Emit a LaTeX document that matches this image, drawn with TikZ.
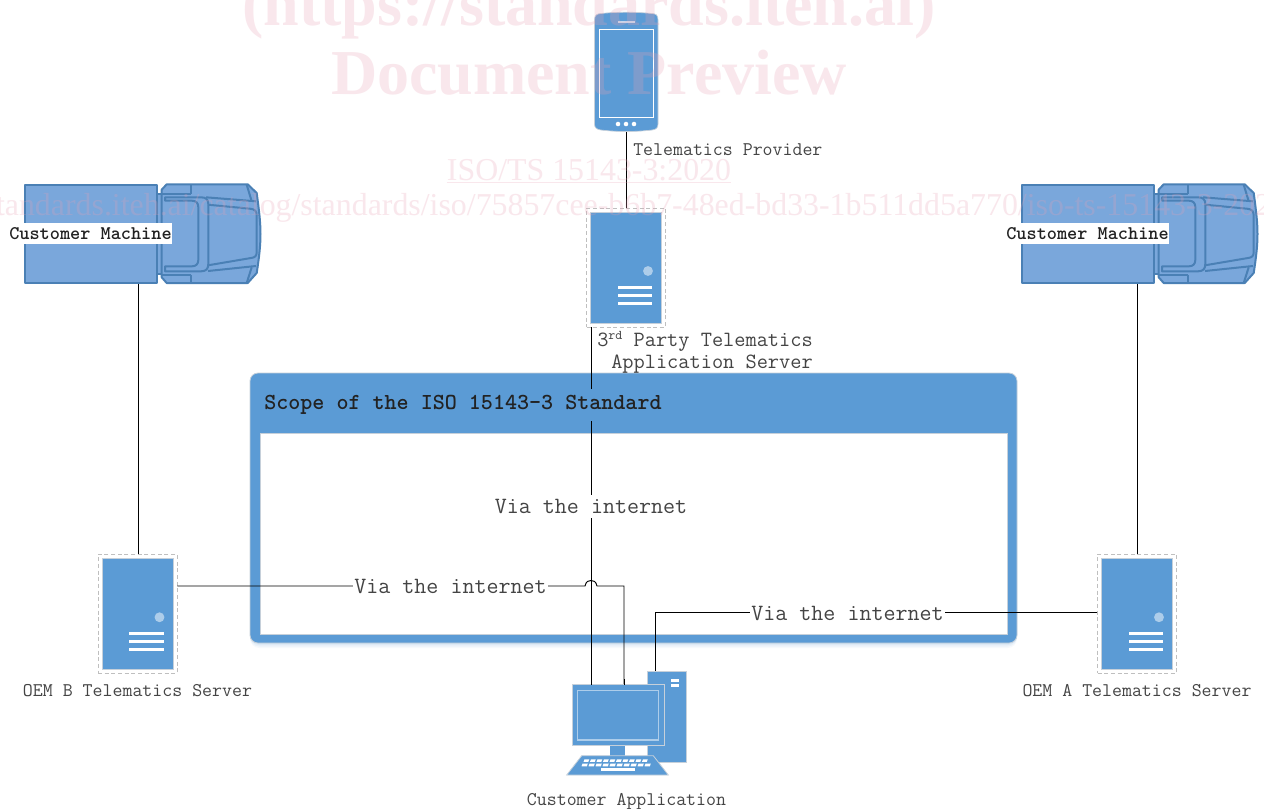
\documentclass[tikz,border=0pt]{standalone}
\usepackage{fontspec}
\setmainfont{Liberation Serif}
\usetikzlibrary{calc}
\definecolor{msblue}{HTML}{5B9BD5}
\definecolor{trkfill}{HTML}{7AA7DB}
\definecolor{trkline}{HTML}{4A80B5}
\definecolor{edgegrey}{HTML}{C6D0DA}
\definecolor{wmark}{HTML}{E8A0B4}
\definecolor{labelgrey}{HTML}{444444}
\definecolor{darktext}{HTML}{222222}
\tikzset{
  lab/.style={font=\ttfamily\fontsize{14.5}{16.5}\selectfont,text=labelgrey,inner sep=0pt},
  lablarge/.style={font=\ttfamily\fontsize{16.3}{16.5}\selectfont,text=labelgrey,inner sep=0pt},
  via/.style={font=\ttfamily\fontsize{17.5}{19}\selectfont,text=labelgrey,fill=white,inner xsep=1pt,inner ysep=3pt},
  cmlabel/.style={font=\ttfamily\bfseries\fontsize{14.5}{16}\selectfont,text=darktext,fill=white,minimum width=120.75pt,minimum height=15.75pt,inner sep=0pt},
  conn/.style={draw=black,line width=0.7pt},
  srvframe/.style={draw=black!25,densely dashed,line width=0.6pt,fill=white,minimum width=59.25pt,minimum height=89.25pt,inner sep=0pt},
  trk/.style={draw=trkline,line width=1.5pt,fill=trkfill,line join=round},
  trkl/.style={draw=trkline,line width=1.5pt,line join=round},
  whitebar/.style={draw=none,fill=white},
  wm/.style={text=wmark,text opacity=0.25,inner sep=0pt},
  truckpic/.pic={
    \path[trk] (24.5,184.5) rectangle (156.5,283);
    \path[trk] (156.5,194) rectangle (162,274);
    \path[trk] (161.7,189.7) -- (166.7,184.3) -- (247.7,184.3) -- (256.7,193) .. controls (259,210) and (260.5,222) .. (260.5,234) .. controls (260.5,246) and (259,258) .. (256.7,273) -- (247.7,283) -- (166.7,283) -- (161.7,277.3) -- cycle;
    \path[trkl] (161.7,194) -- (191,194) (191,184.3) -- (191,194);
    \path[trkl] (161.7,274.7) -- (191,274.7) (191,274.7) -- (191,283);
    \path[trkl] (206,197.3) -- (256,201.3);
    \path[trkl] (208,271) -- (256,266);
    \path[trkl] (208,204.7) -- (250,208.7) .. controls (255,209.2) and (256.7,211) .. (256.7,216) -- (256.7,252) .. controls (256.7,256) and (255,257.5) .. (251,258) -- (208,265.3);
    \path[trkl] (165,197.3) -- (201,197.3) .. controls (206,197.3) and (208.3,199.5) .. (208.3,204) -- (208.3,264) .. controls (208.3,269) and (206,271.3) .. (201,271.3) -- (165,271.3) -- (165,266.3) -- (192,266.3) .. controls (196,266.3) and (198.3,264) .. (198.3,260) -- (198.3,207) .. controls (198.3,203) and (196,200.7) .. (192,200.7) -- (165,200.7) -- cycle;
    \path[trkl] (246.7,184.7) -- (251.7,201.3) (251.7,267.3) -- (246.7,283);
  },
  serverpic/.pic={
    \fill[msblue,draw=edgegrey,line width=0.6pt] (-35.5,-55.5) rectangle (35.5,55.5);
    \fill[fill=msblue!50!white] (22,3.5) circle (3.7pt);
    \foreach \yy in {19.5,27.5,35.5}{\fill[whitebar] (-8.5,\yy-1.5) rectangle (26,\yy+1.5);}
  }
}
\begin{document}
\begin{tikzpicture}[x=0.75pt,y=-0.75pt]
\useasboundingbox (0,0) rectangle (1264,808);
\fill[white] (0,0) rectangle (1264,808);

% scope frame shadow
\foreach \dd/\op in {5/0.05,3.5/0.07,2/0.09}{
  \fill[msblue,opacity=\op,rounded corners=7pt] (250,373+\dd) rectangle (1017,643+\dd);
}
\fill[msblue,draw=edgegrey,line width=0.6pt,rounded corners=6pt] (250,373) rectangle (1017,643);
\fill[white,draw=edgegrey,line width=0.6pt] (260,433) rectangle (1007,634);

% named anchors
\coordinate (truckLc) at (138,283);
\coordinate (truckRc) at (1137,283);
\coordinate (phoneS) at (626,131);
\coordinate (pcA) at (591,685);
\coordinate (pcB) at (624,685);
\coordinate (pcC) at (655,671);

% server frames (empty nodes; icons are drawn on them)
\node[srvframe] (tp) at (626,267.5) {};
\node[srvframe] (oemB) at (137.5,613.75) {};
\node[srvframe] (oemA) at (1137,613.75) {};

% connectors
\draw[conn] (phoneS) -- (phoneS |- tp.north);
\draw[conn] (truckLc) -- (truckLc |- oemB.north);
\draw[conn] (truckRc) -- (truckRc |- oemA.north);
\coordinate (tpS) at (pcA |- tp.south);
\draw[conn] (tpS) -- (pcA);
\coordinate (jumpA) at (597,586);
\coordinate (jumpB) at (585,586);
\draw[conn] (oemB.east |- jumpA) -- (jumpB) .. controls (586,581) and (589,580.5) .. (591,580.5) .. controls (593,580.5) and (596,581) .. (jumpA) -- (pcB |- jumpA) -- (pcB);
\draw[conn] (oemA.west |- 0,612) -- (pcC |- 0,612) -- (pcC);

% truck icons
\path (0,0) pic {truckpic};
\path (997,0) pic {truckpic};

% phone
\fill[msblue,draw=edgegrey,line width=0.5pt] (594.5,20) .. controls (594.5,15) and (597,13.8) .. (601,13.5) .. controls (618,11.8) and (634,11.8) .. (652,13.5) .. controls (656,13.8) and (658,15) .. (658,20) -- (658,124) .. controls (658,128) and (656,129.5) .. (652,130) .. controls (634,132) and (618,132) .. (601,130) .. controls (597,129.5) and (594.5,128) .. (594.5,124) -- cycle;
\draw[white,line width=0.75pt] (599,29) rectangle (653.5,117.5);
\fill[msblue!35!white] (618,20.5) rectangle (635,22.7);
\foreach \xx in {618,626,634}{\fill[white] (\xx,124) circle (1.7pt);}

% servers
\path (tp.center) pic {serverpic};
\path (oemB.center) pic {serverpic};
\path (oemA.center) pic {serverpic};

% computer
\fill[msblue,draw=edgegrey,line width=0.6pt] (647.5,671) rectangle (686,762.5);
\fill[white] (671,678.5) rectangle (679,681.7);
\fill[white] (671,684) rectangle (679,687);
\fill[msblue] (609.7,745) rectangle (625.3,756);
\fill[msblue,draw=edgegrey,line width=0.6pt] (581.7,755.7) -- (653.3,755.7) -- (668.3,775) -- (566.7,775) -- cycle;
\foreach \i in {0,...,9}{
  \fill[white] ({584.5+\i*6.5},759.3) -- ({589.3+\i*6.5},759.3) -- ({588.3+\i*6.5},761.8) -- ({583.5+\i*6.5},761.8) -- cycle;
  \fill[white] ({582.5+\i*7},763.6) -- ({587.8+\i*7},763.6) -- ({586.8+\i*7},766.4) -- ({581.5+\i*7},766.4) -- cycle;
}
\fill[white] (601,768.3) rectangle (634.5,771);
\fill[msblue,draw=edgegrey,line width=0.7pt] (572,684) rectangle (664.3,745.3);
\draw[msblue!50!white,line width=0.8pt] (577.7,690.3) rectangle (658.3,740);

% redraw the two wires that end on the monitor top
\draw[conn] ($(pcA)+(0,-6)$) -- (pcA);
\draw[conn] ($(pcB)+(0,-6)$) -- (pcB);

% labels
\node[lab,anchor=west] (lphone) at (633,149.5) {Telematics Provider};
\node[lablarge,anchor=east,align=right] (ltp) at (813,352.5) {3\raisebox{0.75ex}{\fontsize{10}{10}\selectfont rd} Party Telematics\\Application Server};
\node[lab] (lb) at (137.5,690.5) {OEM B Telematics Server};
\node[lab] (la) at (1137,690.5) {OEM A Telematics Server};
\node[lab] (lc) at (626.5,802) {Customer Application};
\node[cmlabel] (cmL) at (90.5,233.5) {Customer Machine};
\node[cmlabel] (cmR) at (1087.5,233.5) {Customer Machine};
\node[fill=msblue,inner xsep=0pt,inner ysep=0pt,minimum height=23.5pt,anchor=west,font=\ttfamily\bfseries\fontsize{17.2}{19}\selectfont,text=darktext] (scope) at (264,405) {Scope of the ISO 15143-3 Standard};
\node[via] (v1) at (591,506.5) {Via the internet};
\node[via] (v2) at (450.5,586.5) {Via the internet};
\node[via] (v3) at (847.5,613) {Via the internet};

% watermark
\begin{scope}
\clip (0,0) rectangle (1264,808);
\node[wm,font=\bfseries\fontsize{48}{48}\selectfont,anchor=base] (w1) at (589,25) {(https://standards.iteh.ai)};
\node[wm,font=\bfseries\fontsize{48}{48}\selectfont,anchor=base] (w2) at (589,94) {Document Preview};
\node[wm,font=\fontsize{23.9}{24}\selectfont,anchor=base] (w3) at (589,180) {\underline{ISO/TS 15143-3:2020}};
\node[wm,font=\fontsize{23.9}{24}\selectfont,anchor=base] (w4) at (591,215) {https://standards.iteh.ai/catalog/standards/iso/75857cee-b6b7-48ed-bd33-1b511dd5a770/iso-ts-15143-3-2020};
\end{scope}
\end{tikzpicture}
\end{document}
